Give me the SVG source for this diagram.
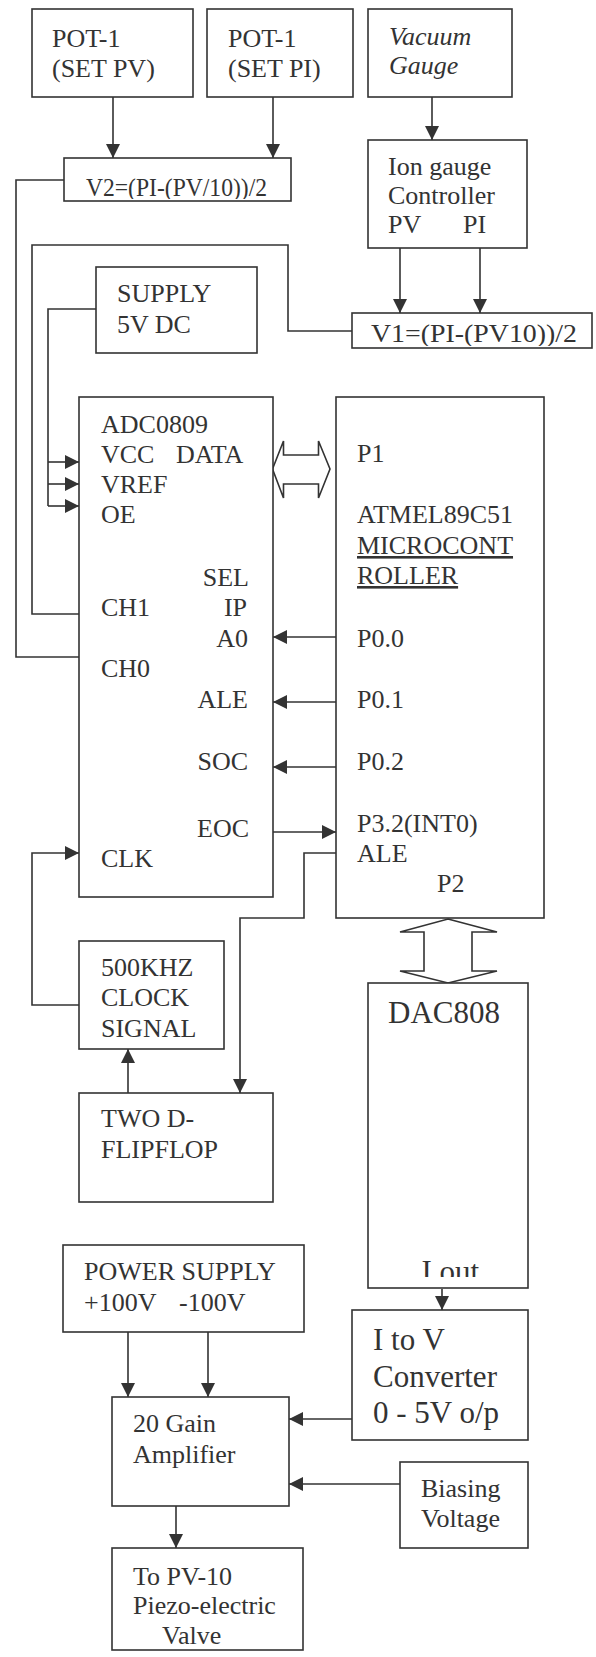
<svg xmlns="http://www.w3.org/2000/svg" width="596" height="1657" viewBox="0 0 596 1657">
<style>
.b{fill:#fff;stroke:#333;stroke-width:1.6}
.c{fill:none;stroke:#333;stroke-width:1.6}
.bus{fill:#fff;stroke:#333;stroke-width:1.6;stroke-linejoin:miter}
text{font-family:"Liberation Serif","Times New Roman",serif;font-size:26px;fill:#333}
.big{font-size:31px}
.it{font-style:italic}
.u{text-decoration:underline}
</style>
<defs>
<marker id="ah" markerUnits="userSpaceOnUse" markerWidth="14" markerHeight="14" refX="14" refY="7" orient="auto">
<path d="M0,0 L14,7 L0,14 z" fill="#333"/>
</marker>
<clipPath id="cv2"><rect x="64" y="158" width="230" height="41"/></clipPath>
<clipPath id="cv1"><rect x="352" y="313" width="240" height="33"/></clipPath>
<clipPath id="cdac"><rect x="368" y="983" width="160" height="294"/></clipPath>
</defs>

<g id="connectors">
<path class="c" d="M113,97 V158" marker-end="url(#ah)"/>
<path class="c" d="M273,97 V158" marker-end="url(#ah)"/>
<path class="c" d="M432,97 V140" marker-end="url(#ah)"/>
<path class="c" d="M400,248 V313" marker-end="url(#ah)"/>
<path class="c" d="M480,248 V313" marker-end="url(#ah)"/>
<path class="c" d="M64,180 H16 V657 H79"/>
<path class="c" d="M352,331 H288 V245 H32 V614 H79"/>
<path class="c" d="M96,309 H48 V506"/>
<path class="c" d="M48,462 H79" marker-end="url(#ah)"/>
<path class="c" d="M48,484 H79" marker-end="url(#ah)"/>
<path class="c" d="M48,506 H79" marker-end="url(#ah)"/>
<path class="c" d="M336,637 H273" marker-end="url(#ah)"/>
<path class="c" d="M336,702 H273" marker-end="url(#ah)"/>
<path class="c" d="M336,767 H273" marker-end="url(#ah)"/>
<path class="c" d="M273,832 H336" marker-end="url(#ah)"/>
<path class="c" d="M336,853 H304 V918 H240 V1093" marker-end="url(#ah)"/>
<path class="c" d="M79,1005 H32 V853 H79" marker-end="url(#ah)"/>
<path class="c" d="M128,1093 V1049" marker-end="url(#ah)"/>
<polygon class="bus" points="272.5,469 283.5,441 283.5,455 318.5,455 318.5,441 330,469 318.5,498 318.5,484 283.5,484 283.5,498"/>
<polygon class="bus" points="448,919 497,932 472,932 472,971 497,971 448,983 400,971 424,971 424,932 400,932"/>
<path class="c" d="M442,1289 V1310" marker-end="url(#ah)"/>
<path class="c" d="M352,1419 H289" marker-end="url(#ah)"/>
<path class="c" d="M400,1484 H289" marker-end="url(#ah)"/>
<path class="c" d="M128,1332 V1397" marker-end="url(#ah)"/>
<path class="c" d="M208,1332 V1397" marker-end="url(#ah)"/>
<path class="c" d="M176,1506 V1548" marker-end="url(#ah)"/>
</g>

<g id="pot-pv">
<rect class="b" x="32" y="9" width="161" height="88"/>
<text x="52" y="47">POT-1</text>
<text x="52" y="77">(SET PV)</text>
</g>
<g id="pot-pi">
<rect class="b" x="207" y="9" width="146" height="88"/>
<text x="228" y="47">POT-1</text>
<text x="228" y="77">(SET PI)</text>
</g>
<g id="vacuum-gauge">
<rect class="b" x="368" y="9" width="144" height="88"/>
<text class="it" x="389" y="45">Vacuum</text>
<text class="it" x="389" y="74">Gauge</text>
</g>
<g id="v2">
<rect class="b" x="64" y="158" width="227" height="43"/>
<text x="86" y="196" clip-path="url(#cv2)" textLength="181" lengthAdjust="spacingAndGlyphs">V2=(PI-(PV/10))/2</text>
</g>
<g id="ion-gauge">
<rect class="b" x="368" y="140" width="159" height="108"/>
<text x="388" y="175">Ion gauge</text>
<text x="388" y="204">Controller</text>
<text x="388" y="233">PV</text>
<text x="463" y="233">PI</text>
</g>
<g id="v1">
<rect class="b" x="352" y="313" width="240" height="35"/>
<text x="371" y="341.5" clip-path="url(#cv1)" textLength="206" lengthAdjust="spacingAndGlyphs">V1=(PI-(PV10))/2</text>
</g>
<g id="supply">
<rect class="b" x="96" y="267" width="161" height="86"/>
<text x="117" y="302">SUPPLY</text>
<text x="117" y="333">5V DC</text>
</g>
<g id="adc">
<rect class="b" x="79" y="397" width="194" height="500"/>
<text x="101" y="432.5">ADC0809</text>
<text x="101" y="462.5">VCC</text>
<text x="176" y="462.5">DATA</text>
<text x="101" y="493">VREF</text>
<text x="101" y="523">OE</text>
<text x="249" y="586" text-anchor="end">SEL</text>
<text x="101" y="616">CH1</text>
<text x="247" y="616" text-anchor="end">IP</text>
<text x="248" y="646.5" text-anchor="end">A0</text>
<text x="101" y="676.5">CH0</text>
<text x="248" y="707.5" text-anchor="end">ALE</text>
<text x="248" y="770" text-anchor="end">SOC</text>
<text x="249" y="836.5" text-anchor="end">EOC</text>
<text x="101" y="867">CLK</text>
</g>
<g id="microcontroller">
<rect class="b" x="336" y="397" width="208" height="521"/>
<text x="357" y="462">P1</text>
<text x="357" y="523">ATMEL89C51</text>
<text class="u" x="357" y="554">MICROCONT</text>
<text class="u" x="357" y="584">ROLLER</text>
<text x="357" y="646.5">P0.0</text>
<text x="357" y="707.5">P0.1</text>
<text x="357" y="770">P0.2</text>
<text x="357" y="831.5">P3.2(INT0)</text>
<text x="357" y="861.5">ALE</text>
<text x="437" y="891.5">P2</text>
</g>
<g id="clock">
<rect class="b" x="79" y="941" width="145" height="108"/>
<text x="101" y="976">500KHZ</text>
<text x="101" y="1005.5">CLOCK</text>
<text x="101" y="1036.5">SIGNAL</text>
</g>
<g id="flipflop">
<rect class="b" x="79" y="1093" width="194" height="109"/>
<text x="101" y="1127">TWO D-</text>
<text x="101" y="1158">FLIPFLOP</text>
</g>
<g id="dac">
<rect class="b" x="368" y="983" width="160" height="305"/>
<text class="big" x="388" y="1023">DAC808</text>
<text class="big" x="421.5" y="1282" clip-path="url(#cdac)">I out</text>
</g>
<g id="i-to-v">
<rect class="b" x="352" y="1310" width="176" height="130"/>
<text class="big" x="373" y="1350">I to V</text>
<text class="big" x="373" y="1387">Converter</text>
<text class="big" x="373" y="1423">0 - 5V o/p</text>
</g>
<g id="power-supply">
<rect class="b" x="63" y="1245" width="241" height="87"/>
<text x="84" y="1280">POWER SUPPLY</text>
<text x="84" y="1310.5">+100V</text>
<text x="179" y="1310.5">-100V</text>
</g>
<g id="amplifier">
<rect class="b" x="112" y="1397" width="177" height="109"/>
<text x="133" y="1431.5">20 Gain</text>
<text x="133" y="1463">Amplifier</text>
</g>
<g id="biasing">
<rect class="b" x="400" y="1462" width="128" height="86"/>
<text x="421" y="1496.5">Biasing</text>
<text x="421" y="1526.5">Voltage</text>
</g>
<g id="valve">
<rect class="b" x="112" y="1548" width="191" height="102"/>
<text x="133" y="1585">To PV-10</text>
<text x="133" y="1614">Piezo-electric</text>
<text x="162" y="1644">Valve</text>
</g>
</svg>
